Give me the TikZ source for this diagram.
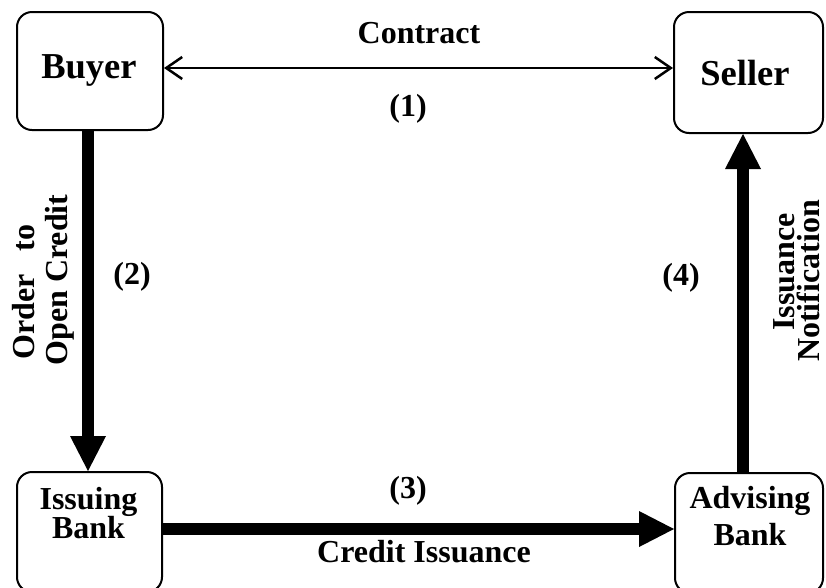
\documentclass[tikz,border=0pt]{standalone}
\usepackage{fontspec}
\setmainfont{Liberation Serif}
\usetikzlibrary{arrows.meta}
\tikzset{
  box/.style={draw, line width=2pt, rounded corners=15pt, inner sep=0pt},
  boxtext/.style={anchor=base, inner sep=0pt, font=\bfseries\fontsize{32}{36}\selectfont},
  bigtext/.style={anchor=base, inner sep=0pt, font=\bfseries\fontsize{36.5}{40}\selectfont},
  lbl/.style={inner sep=0pt, font=\bfseries\fontsize{32}{36}\selectfont},
  thinarrow/.style={line width=2.5pt, {Straight Barb[length=16pt,width=22pt,line width=2.5pt]}-{Straight Barb[length=16pt,width=22pt,line width=2.5pt]}},
  bigarrow/.style={line width=12pt, -{Triangle[length=35pt,width=36pt,line width=0pt]}}
}
\begin{document}
\begin{tikzpicture}[x=1pt,y=-1pt]
\useasboundingbox (0,0) rectangle (826,587);
% boxes
\node[box, minimum width=146pt, minimum height=118pt] (buyer) at (90,71) {};
\node[box, minimum width=149pt, minimum height=121pt] (seller) at (748.5,72.5) {};
\node[box, minimum width=145pt, minimum height=120pt] (issuing) at (89.5,532) {};
\node[box, minimum width=148pt, minimum height=120pt] (advising) at (749,533) {};
% box texts
\node[bigtext] (buyerT) at (89,78) {Buyer};
\node[bigtext] (sellerT) at (745,85) {Seller};
\node[boxtext] (issT1) at (88.5,509) {Issuing};
\node[boxtext] (issT2) at (88.5,538) {Bank};
\node[boxtext] (advT1) at (750,508) {Advising};
\node[boxtext] (advT2) at (750,545) {Bank};
% connectors
\draw[thinarrow] ([yshift=3pt]buyer.east) -- ([yshift=3pt]buyer.east -| seller.west);
\draw[bigarrow] ([xshift=-2pt]buyer.south) -- ([xshift=-2pt]buyer.south |- issuing.north);
\draw[bigarrow] ([yshift=3pt]issuing.east) -- ([yshift=3pt]issuing.east -| advising.west);
\draw[bigarrow] ([xshift=-6pt]advising.north) -- ([xshift=-6pt]advising.north |- seller.south);
% labels
\node[lbl, anchor=base] (contract) at (419,43) {Contract};
\node[lbl, anchor=base] (n1) at (408,116) {(1)};
\node[lbl] (n2) at (132,277) {(2)};
\node[lbl] (n3) at (408,491) {(3)};
\node[lbl] (n4) at (681,278) {(4)};
\node[lbl, anchor=base] (credit) at (424,562) {Credit Issuance};
\node[lbl, rotate=90] (order) at (23.5,292) {Order\hspace{0.7em}to};
\node[lbl, rotate=90] (open) at (60,280) {Open Credit};
\node[lbl, rotate=90] (issuance) at (784,272) {Issuance};
\node[lbl, rotate=90] (notif) at (808,281) {Notification};
\end{tikzpicture}
\end{document}
